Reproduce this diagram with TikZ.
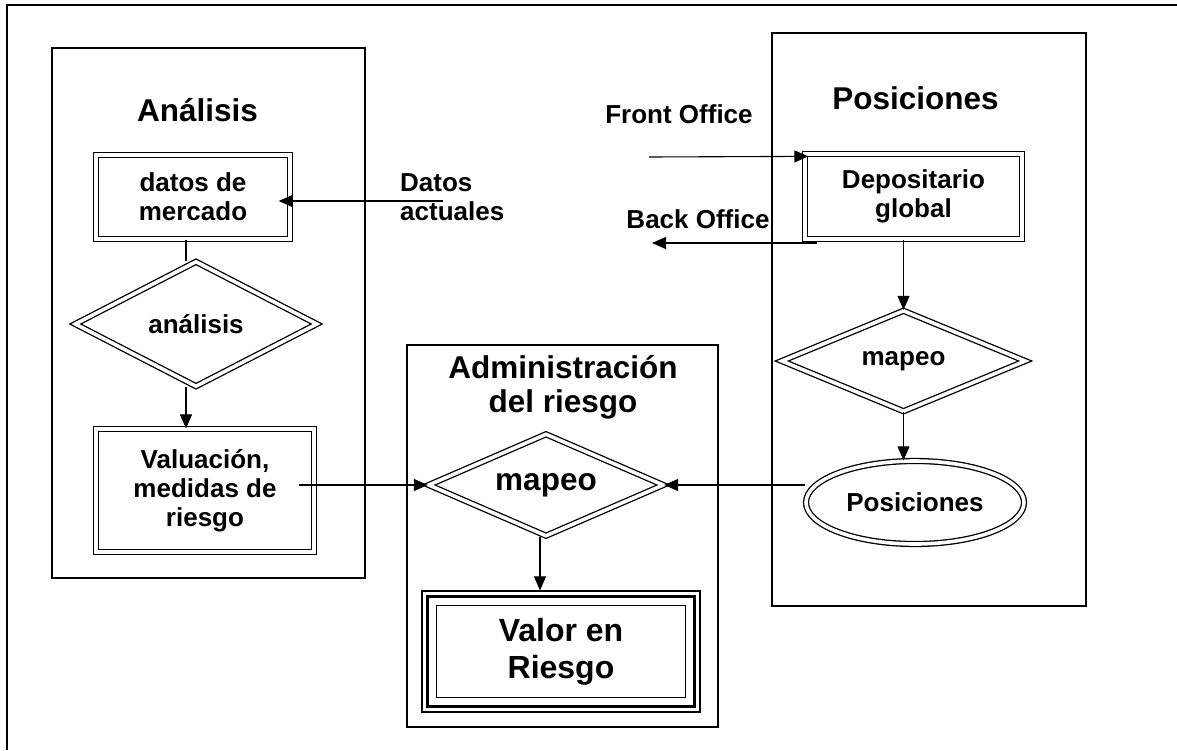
\documentclass[tikz,border=0pt]{standalone}
\usepackage{fontspec}
\setmainfont{Liberation Sans}
\usetikzlibrary{shapes.geometric,arrows.meta,calc}
\begin{document}
\begin{tikzpicture}[x=1pt,y=-1pt,
  small/.style={font=\fontsize{26}{29}\selectfont\bfseries},
  big/.style={font=\fontsize{31.5}{34}\selectfont\bfseries},
  group/.style n args={2}{draw, line width=1.3pt, rectangle, minimum width=#1, minimum height=#2, inner sep=0pt},
  dline/.style={draw, double, line width=1.3pt, double distance=3.6pt, inner sep=0pt, align=center, small},
  dbox/.style n args={2}{dline, rectangle, minimum width=#1, minimum height=#2},
  ddiam/.style n args={2}{dline, diamond, shape aspect=2, minimum width=#1, minimum height=#2},
  dell/.style n args={2}{dline, ellipse, minimum width=#1, minimum height=#2},
  lbl/.style={small, inner sep=0pt},
  ttl/.style={big, inner sep=0pt},
  arr/.style={line width=1.1pt, -{Triangle[length=14pt,width=12pt]}},
  conn/.style={line width=1.1pt}
]
\useasboundingbox (0,0) rectangle (1177,750);
% outer frame
\draw[line width=1.5pt] (7,750) -- (7,5) -- (1177,5);

% containers
\node[group={313pt}{530pt}] (anbox) at (208.5,313) {};
\node[group={311pt}{382pt}] (admbox) at (562.5,536) {};
\node[group={314pt}{573pt}] (posbox) at (929,319.5) {};

% titles
\node[ttl, anchor=base] (antitle) at (197.5,121) {Análisis};
\node[ttl, anchor=base] (postitle) at (915.5,109) {Posiciones};
\node[ttl, anchor=north, align=center] (admtitle) at (563,355) {Administración\\del riesgo};

% Analisis column
\node[dbox={194pt}{84pt}] (datos) at (193,197) {datos de\\mercado};
\node[ddiam={242pt}{125pt}] (ana) at (196,324) {análisis};
\node[dbox={218pt}{123pt}] (valu) at (205,490.5) {Valuación,\\medidas de\\riesgo};

% Administracion column
\node[ddiam={235pt}{102pt}, big] (cmap) at (546,485) {mapeo};
\node[draw, line width=1.2pt, rectangle, minimum width=278pt, minimum height=121pt, inner sep=0pt, align=center,
      font=\fontsize{32}{37}\selectfont\bfseries] (valor) at (561,651.5) {Valor en\\Riesgo};
\draw[line width=3.5pt] ($(valor.north west)+(6,6)$) rectangle ($(valor.south east)+(-6,-6)$);
\draw[line width=1.2pt] ($(valor.north west)+(15,15)$) rectangle ($(valor.south east)+(-15,-15)$);

% Posiciones column
\node[dbox={217pt}{85pt}] (depo) at (913.5,196.5) {Depositario\\global};
\node[ddiam={244pt}{101pt}] (rmap) at (903.5,361) {mapeo};
\node[dell={218pt}{83pt}] (ell) at (915,502.5) {Posiciones};

% labels
\node[lbl, anchor=north west, align=left] (datxt) at (400,173) {Datos\\actuales};
\node[lbl, anchor=base] (fotxt) at (679,123) {Front Office};
\node[lbl, anchor=base] (botxt) at (698,228) {Back Office};

% free ends
\coordinate (daS) at (443,201);
\coordinate (foS) at (649,157);
\coordinate (boS) at (817,243);
\coordinate (boE) at (652,243);

% connectors
\draw[arr] (daS) -- ([xshift=-12pt]datos.east |- daS);
\draw[conn] ([xshift=-7pt]datos.south) -- ([xshift=-7pt]datos.south |- ana.north);
\draw[arr] ([xshift=-10pt]ana.south) -- ([xshift=-10pt]ana.south |- valu.north);
\draw[arr] ([xshift=-16pt]valu.east |- cmap.west) -- (cmap.west);
\draw[arr] ([xshift=-6pt]cmap.south) -- ([xshift=-6pt]cmap.south |- valor.north);
\draw[arr] (foS) -- ($(depo.north west)+(4,3)$);
\draw[arr] (boS) -- (boE);
\draw[arr] (rmap.north |- depo.south) -- (rmap.north);
\draw[arr] (rmap.south) -- (rmap.south |- ell.north);
\draw[arr] (ell.west |- cmap.east) -- (cmap.east);
\end{tikzpicture}
\end{document}
